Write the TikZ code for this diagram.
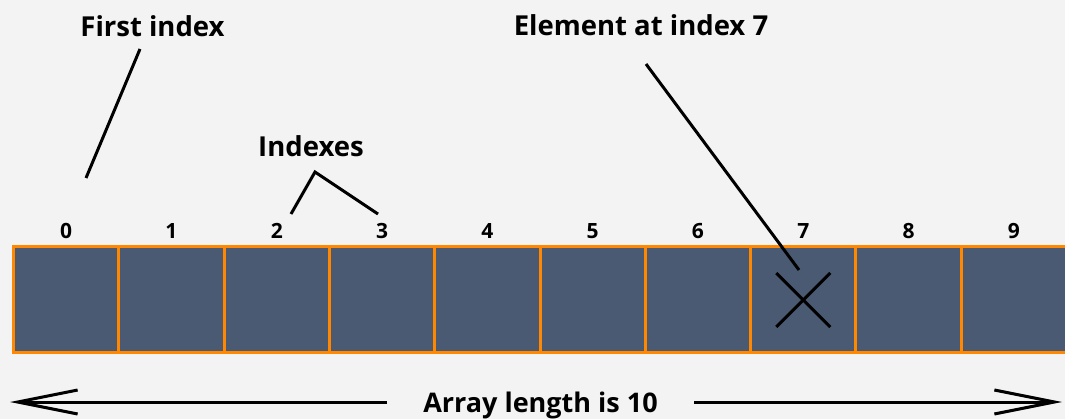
\documentclass[tikz,border=0pt]{standalone}
\usepackage{fontspec}
\setmainfont{Open Sans}
\usetikzlibrary{arrows.meta}
\definecolor{bg}{HTML}{F3F3F3}
\definecolor{cellfill}{HTML}{4A5A73}
\definecolor{cellline}{HTML}{FF8800}
\tikzset{
  cellbox/.style={draw=cellline, fill=cellfill, line width=3pt, minimum width=105.3pt, minimum height=106pt, inner sep=0pt, outer sep=0pt},
  idx/.style={font=\fontsize{21}{22}\selectfont\bfseries, inner sep=0pt, anchor=base},
  title/.style={font=\fontsize{27.5}{30}\selectfont\bfseries, inner sep=0pt, anchor=base},
  conn/.style={line width=3pt},
  lenarrow/.style={line width=3pt, -{Straight Barb[length=60pt,width=24pt,line width=3pt]}}
}
\begin{document}
\begin{tikzpicture}[x=1pt,y=-1pt]
\useasboundingbox (0,0) rectangle (1065,419);
\fill[bg] (0,0) rectangle (1065,419);
\foreach \i in {0,...,9} {
  \node[cellbox] (c\i) at ({66.15+105.3*\i},300) {};
  \node[idx] (n\i) at ({66.15+105.3*\i},239) {\i};
}
% titles
\node[title] (first) at (152.5,37) {First index};
\node[title] (indexes) at (311,157) {Indexes};
\node[title] (elem) at (641,36) {Element at index 7};
% first index connector
\coordinate (f1) at (140,49);
\coordinate (f2) at (86,178);
\draw[conn] (f1) -- (f2);
% indexes connector
\coordinate (ia) at (315,172);
\coordinate (il) at (291,214);
\coordinate (ir) at (378,214);
\draw[conn] (il) -- (ia) -- (ir);
% element connector and cross
\coordinate (e1) at (646,64);
\coordinate (e2) at (799,270);
\draw[conn] (e1) -- (e2);
\draw[conn] ([shift={(-27,-27)}]c7.center) -- ([shift={(27,27)}]c7.center);
\draw[conn] ([shift={(27,-27)}]c7.center) -- ([shift={(-27,27)}]c7.center);
% length arrow
\node[title, font=\fontsize{27}{30}\selectfont\bfseries, anchor=base] (len) at (540.5,412) {Array length is 10};
\coordinate (aL) at (10,402);
\coordinate (aR) at (1062,402);
\coordinate (lL) at (387,402);
\coordinate (lR) at (694,402);
\draw[lenarrow] (lL) -- (aL);
\draw[lenarrow] (lR) -- (aR);
\end{tikzpicture}
\end{document}
